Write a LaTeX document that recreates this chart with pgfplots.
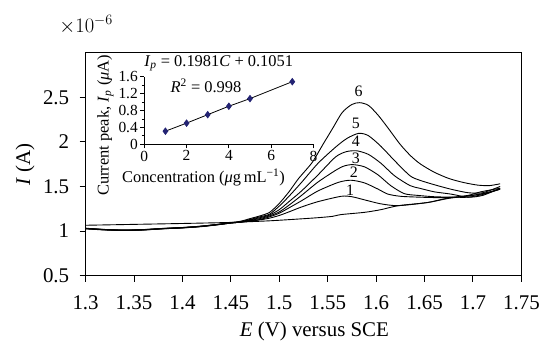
\documentclass[border=0pt]{standalone}
\usepackage{fontspec}
\setmainfont{Liberation Serif}
\usepackage{pgfplots}
\pgfplotsset{compat=1.18}
\usetikzlibrary{calc}
\definecolor{navy}{RGB}{35,35,115}
\tikzset{cv/.style={black, line width=0.9bp, smooth, tension=0.45, mark=none},
 lab/.style={font=\fontsize{16bp}{18bp}\selectfont, inner sep=0.5bp}}
\begin{document}
\begin{tikzpicture}
\begin{axis}[
 name=main, scale only axis, width=438bp, height=224bp,
 xmin=1.3, xmax=1.75, ymin=0.5, ymax=3,
 xtick={1.3,1.35,1.4,1.45,1.5,1.55,1.6,1.65,1.7,1.75},
 ytick={0.5,1,1.5,2,2.5},
 scaled ticks=false,
 /pgf/number format/fixed, /pgf/number format/precision=2,
 /pgf/number format/assume math mode=true,
 tick align=outside, tick pos=left,
 major tick length=6bp,
 axis line style={line width=1.1bp},
 every tick/.style={line width=1bp, black},
 tick label style={font=\fontsize{21bp}{24bp}\selectfont},
 xticklabel style={yshift=-11bp},
 yticklabel style={xshift=-7bp},
 label style={font=\fontsize{21bp}{24bp}\selectfont},
 xlabel={\textit{E} (V) versus SCE},
 ylabel={\textit{I} (A)},
 xlabel style={at={(axis description cs:0.525,-0.25)}, anchor=center},
 ylabel style={at={(axis description cs:-0.139,0.5)}, anchor=center},
]
% blank
\addplot[cv] coordinates {(1.30,1.065)(1.35,1.075)(1.40,1.085)(1.45,1.097)(1.49,1.115)(1.52,1.135)(1.54,1.15)(1.555,1.165)(1.564,1.185)(1.588,1.21)(1.605,1.24)(1.623,1.285)(1.653,1.32)(1.674,1.37)(1.695,1.40)(1.708,1.44)(1.728,1.48)};
% 1
\addplot[cv] coordinates {(1.30,1.025)(1.32,1.012)(1.34,1.007)(1.36,1.012)(1.38,1.025)(1.40,1.035)(1.42,1.05)(1.44,1.075)(1.45,1.09)(1.46,1.10)(1.47,1.11)(1.48,1.125)(1.49,1.145)(1.50,1.175)(1.51,1.215)(1.523,1.27)(1.54,1.33)(1.564,1.39)(1.575,1.385)(1.588,1.35)(1.605,1.305)(1.623,1.285)(1.653,1.32)(1.674,1.365)(1.695,1.395)(1.71,1.42)(1.728,1.47)};
% 2
\addplot[cv] coordinates {(1.30,1.027)(1.32,1.014)(1.34,1.008)(1.36,1.013)(1.38,1.026)(1.40,1.036)(1.42,1.052)(1.44,1.076)(1.45,1.09)(1.46,1.10)(1.47,1.115)(1.48,1.13)(1.49,1.16)(1.50,1.20)(1.51,1.26)(1.523,1.34)(1.54,1.45)(1.561,1.546)(1.574,1.57)(1.588,1.54)(1.602,1.47)(1.612,1.415)(1.625,1.39)(1.645,1.38)(1.664,1.375)(1.682,1.38)(1.70,1.40)(1.715,1.43)(1.728,1.47)};
% 3
\addplot[cv] coordinates {(1.30,1.028)(1.32,1.015)(1.34,1.009)(1.36,1.014)(1.38,1.027)(1.40,1.037)(1.42,1.053)(1.44,1.077)(1.45,1.09)(1.46,1.10)(1.47,1.12)(1.48,1.14)(1.49,1.17)(1.50,1.215)(1.51,1.29)(1.523,1.40)(1.54,1.55)(1.558,1.68)(1.567,1.73)(1.576,1.745)(1.588,1.72)(1.602,1.63)(1.615,1.51)(1.629,1.42)(1.643,1.40)(1.66,1.385)(1.68,1.38)(1.695,1.38)(1.71,1.41)(1.728,1.47)};
% 4
\addplot[cv] coordinates {(1.30,1.03)(1.32,1.016)(1.34,1.01)(1.36,1.015)(1.38,1.028)(1.40,1.038)(1.42,1.054)(1.44,1.078)(1.45,1.092)(1.46,1.10)(1.47,1.125)(1.48,1.15)(1.49,1.18)(1.50,1.24)(1.51,1.33)(1.523,1.45)(1.54,1.63)(1.558,1.83)(1.569,1.89)(1.58,1.90)(1.592,1.86)(1.605,1.76)(1.619,1.62)(1.635,1.51)(1.645,1.48)(1.66,1.44)(1.677,1.415)(1.695,1.38)(1.71,1.40)(1.728,1.48)};
% 5
\addplot[cv] coordinates {(1.30,1.03)(1.32,1.017)(1.34,1.01)(1.36,1.016)(1.38,1.029)(1.40,1.039)(1.42,1.055)(1.44,1.079)(1.45,1.093)(1.46,1.105)(1.47,1.13)(1.48,1.16)(1.49,1.19)(1.50,1.28)(1.51,1.39)(1.523,1.546)(1.54,1.76)(1.558,1.94)(1.57,2.04)(1.582,2.096)(1.592,2.07)(1.605,1.95)(1.619,1.79)(1.635,1.62)(1.645,1.57)(1.66,1.52)(1.677,1.47)(1.695,1.43)(1.71,1.43)(1.728,1.50)};
% 6
\addplot[cv] coordinates {(1.30,1.032)(1.32,1.018)(1.34,1.011)(1.36,1.017)(1.38,1.03)(1.40,1.04)(1.42,1.056)(1.44,1.08)(1.45,1.095)(1.46,1.11)(1.47,1.14)(1.48,1.17)(1.49,1.21)(1.50,1.31)(1.51,1.44)(1.52,1.59)(1.534,1.77)(1.545,1.97)(1.555,2.15)(1.565,2.33)(1.575,2.42)(1.583,2.44)(1.592,2.41)(1.602,2.30)(1.612,2.16)(1.625,1.97)(1.636,1.84)(1.646,1.75)(1.66,1.66)(1.675,1.59)(1.69,1.545)(1.705,1.515)(1.717,1.51)(1.728,1.53)};
\node[lab] at (axis cs:1.582,2.57) {6};
\node[lab] at (axis cs:1.579,2.21) {5};
\node[lab] at (axis cs:1.579,2.01) {4};
\node[lab] at (axis cs:1.579,1.82) {3};
\node[lab] at (axis cs:1.577,1.66) {2};
\node[lab] at (axis cs:1.573,1.46) {1};
\end{axis}
\node[font=\fontsize{21bp}{24bp}\selectfont, anchor=center] at ($(main.north west)+(0.5bp,28bp)$) {$\times 10^{-6}$};
\begin{axis}[
 at={($(main.south west)+(59bp,132bp)$)}, anchor=south west,
 scale only axis, width=170bp, height=68bp,
 xmin=0, xmax=8, ymin=0, ymax=1.6,
 xtick={0,2,4,6,8}, ytick={0,0.4,0.8,1.2,1.6},
 minor y tick num=1,
 axis lines=left, axis line style={-, line width=0.9bp},
 tick align=outside,
 major tick length=4bp, minor tick length=2.5bp,
 every tick/.style={line width=0.8bp, black},
 /pgf/number format/fixed, /pgf/number format/precision=1,
 /pgf/number format/assume math mode=true,
 tick label style={font=\fontsize{15.5bp}{17bp}\selectfont},
 yticklabel style={xshift=1bp},
 xticklabel style={yshift=1bp},
 clip=false,
]
\addplot[black, line width=0.8bp, mark=diamond*, mark size=3.2bp, mark options={navy, fill=navy}] coordinates {(1,0.31)(2,0.50)(3,0.70)(4,0.90)(5,1.08)(7,1.48)};
\node[font=\fontsize{16.5bp}{18bp}\selectfont] at (rel axis cs:0.44,1.2) {\textit{I}\textsubscript{\textit{p}} = 0.1981\textit{C} + 0.1051};
\node[font=\fontsize{16.5bp}{18bp}\selectfont] at (rel axis cs:0.365,0.86) {\textit{R}\textsuperscript{2} = 0.998};
\node[font=\fontsize{16.5bp}{18bp}\selectfont] at (rel axis cs:0.35,-0.485) {Concentration (\textit{μ}g\,mL\textsuperscript{−1})};
\node[font=\fontsize{16.5bp}{18bp}\selectfont, rotate=90] at (rel axis cs:-0.23,0.28) {Current peak, \textit{I}\textsubscript{\textit{p}} (\textit{μ}A)};
\end{axis}
\path (main.south west) ++(-86bp,-70bp) rectangle ++(543bp,347bp);
\end{tikzpicture}
\end{document}
